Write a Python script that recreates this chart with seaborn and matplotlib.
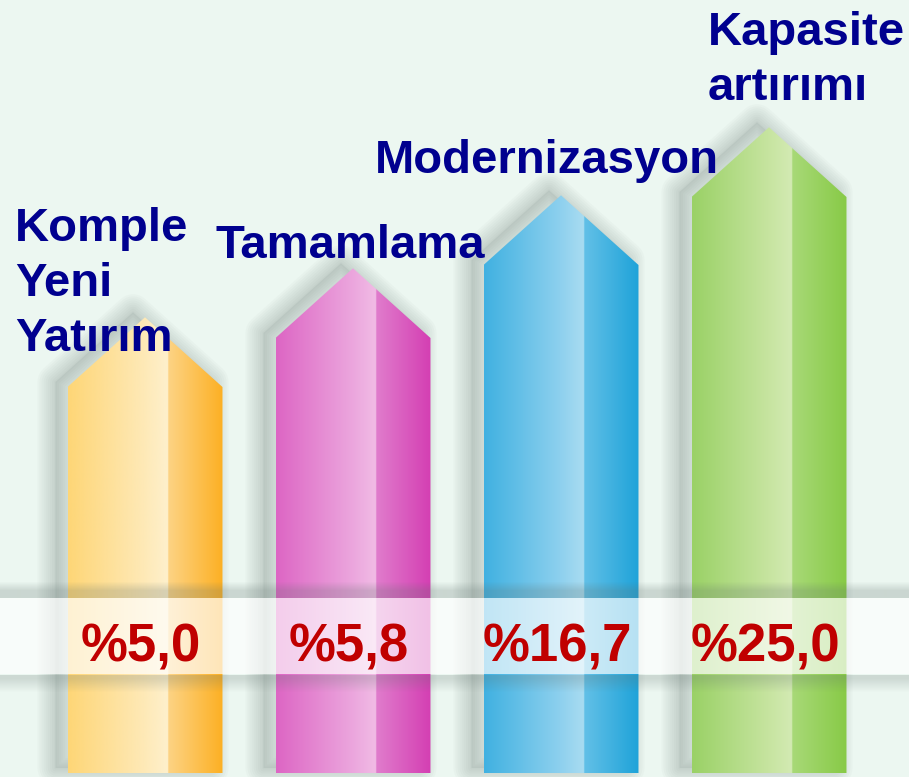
import numpy as np
import matplotlib.pyplot as plt
from matplotlib.colors import LinearSegmentedColormap, to_rgb
from matplotlib.patches import Polygon
import seaborn as sns

categories = ["Komple\nYeni\nYatırım", "Tamamlama", "Modernizasyon", "Kapasite\nartırımı"]
shares = [5.0, 5.8, 16.7, 25.0]
value_labels = ["%5,0", "%5,8", "%16,7", "%25,0"]
# pictogram shaft heights (not to scale with the shares)
shaft_heights = [386, 435, 508, 576]

# horizontal gradient stops of each column: left edge, light middle, split, right edge
bar_colors = [
    ["#fed677", "#fee9b6", "#fef0cc", "#fdd384", "#fcb024"],
    ["#dd66c4", "#eba5dd", "#f1bbe5", "#e07ccc", "#d43fb3"],
    ["#40b1e1", "#8dd0ee", "#a9dcf1", "#62c0e7", "#1fa3d9"],
    ["#9ad166", "#c6e49f", "#d3eab3", "#a8d977", "#88ca47"],
]

# label layout in image pixels: left x, baseline y of the last line
label_pos = [(15, 351), (216, 258), (375, 173), (708, 100)]

W, H = 909, 777
BG = "#ecf7f1"
NAVY = "#00008f"
RED = "#c00000"
SHADOW = "#5f706c"

sns.set_theme(style="white")
plt.rcParams["font.family"] = ["Liberation Sans", "DejaVu Sans"]

fig = plt.figure(figsize=(W / 100, H / 100), dpi=100)
fig.patch.set_facecolor(BG)
ax = fig.add_axes([0, 0, 1, 1])
ax.set_facecolor(BG)

sns.barplot(x=categories, y=shaft_heights, ax=ax, width=0.745, color="white")

xlim = (-145 / 208, (W - 145) / 208)
ylim = (-4, 773)
px_x = W / (xlim[1] - xlim[0])  # pixels per x unit

split = 0.65

for i, patch in enumerate(ax.patches):
    x0 = patch.get_x()
    w = patch.get_width()
    h = patch.get_height()
    x1 = x0 + w
    head = 0.9 * (w * px_x / 2)
    verts = [(x0, 0), (x0, h), (x0 + w / 2, h + head), (x1, h), (x1, 0)]
    patch.set_visible(False)

    # soft shadow to the upper left
    dx, dy = -12 / px_x, 5
    sverts = [(vx + dx, vy + dy) for vx, vy in verts]
    for lw in [26, 23, 20, 17, 14, 11, 8, 5, 2]:
        ax.add_patch(Polygon(sverts, closed=True, facecolor="none", edgecolor=SHADOW,
                             alpha=0.03, linewidth=lw, joinstyle="round", zorder=1))
    ax.add_patch(Polygon(sverts, closed=True, facecolor=SHADOW, edgecolor="none",
                         alpha=0.1, zorder=1))

    poly = Polygon(verts, closed=True, facecolor="none", edgecolor="none", zorder=2)
    ax.add_patch(poly)
    stops = [0.0, split * 0.75, split - 0.005, split, 1.0]
    cmap = LinearSegmentedColormap.from_list(f"bar{i}", list(zip(stops, bar_colors[i])))
    grad = np.linspace(0, 1, 400)[None, :]
    img = ax.imshow(grad, cmap=cmap, extent=(x0, x1, 0, h + head), aspect="auto",
                    interpolation="bilinear", origin="lower", zorder=2)
    img.set_clip_path(poly)

    ax.text(x0 + w / 2 - 4 / px_x, 773 - 662, value_labels[i], ha="center", va="baseline",
            fontsize=38, fontweight="bold", color=RED, zorder=7)

# band shadows and the translucent band
yy = np.arange(580, 696)
alpha = np.zeros(len(yy))
for k, y in enumerate(yy):
    if y < 598:
        alpha[k] = 0.24 * np.clip((y - 581) / 9, 0, 1)
    elif y > 674:
        alpha[k] = 0.22 * np.clip((692 - y) / 14, 0, 1)
shade = np.zeros((len(yy), 1, 4))
shade[..., :3] = to_rgb(SHADOW)
shade[:, 0, 3] = alpha
ax.imshow(shade, extent=(xlim[0], xlim[1], 773 - 696, 773 - 580), aspect="auto",
          interpolation="bilinear", origin="upper", zorder=4)
ax.axhspan(773 - 674, 773 - 598, color="white", alpha=0.68, linewidth=0, zorder=5)

for (lx, ly), lab in zip(label_pos, categories):
    fig.text(lx / W, 1 - ly / H, lab, ha="left", va="baseline", fontsize=34,
             fontweight="bold", color=NAVY, linespacing=1.32, zorder=8)

ax.set_xlim(*xlim)
ax.set_ylim(*ylim)
ax.axis("off")

fig.savefig("out.png", dpi=100, facecolor=BG)
